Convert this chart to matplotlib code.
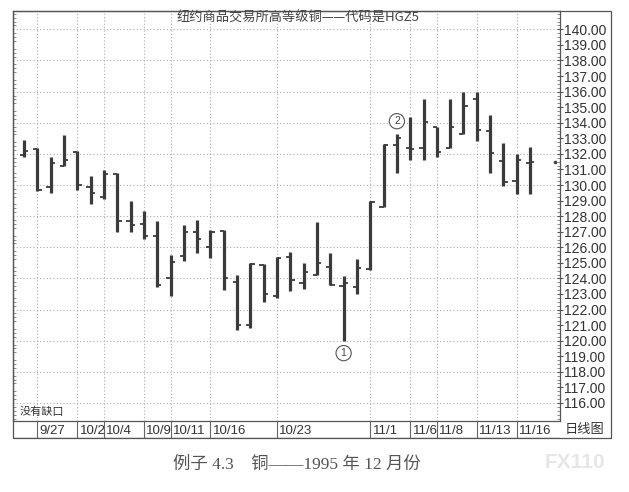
import matplotlib
matplotlib.use("Agg")
import matplotlib.pyplot as plt
from matplotlib.patches import Rectangle
from matplotlib.ticker import MultipleLocator, FixedLocator

plt.rcParams["font.family"] = ["Liberation Sans", "Noto Sans CJK SC"]

# daily bars, HGZ5 (Dec 1995 copper)
dates = ["9/26", "9/27", "9/28", "9/29", "10/2", "10/3", "10/4", "10/5", "10/6",
         "10/9", "10/10", "10/11", "10/12", "10/13", "10/16", "10/17", "10/18",
         "10/19", "10/20", "10/23", "10/24", "10/25", "10/26", "10/27", "10/30",
         "10/31", "11/1", "11/2", "11/3", "11/6", "11/7", "11/8", "11/9", "11/10",
         "11/13", "11/14", "11/15", "11/16", "11/17"]
opens = [131.9, 132.3, 129.9, 131.25, 132.1, 129.9, 129.2, 130.7, 127.7,
         127.5, 126.7, 124.0, 125.45, 126.95, 126.0, 127.05, 123.8,
         121.0, 124.85, 122.85, 125.35, 123.7, 124.2, 124.75, 123.5,
         123.45, 124.6, 128.6, 132.6, 132.35, 132.35, 133.7, 132.4, 133.3,
         135.5, 133.45, 131.55, 130.25, 131.4]
highs = [132.9, 132.4, 131.8, 133.2, 132.2, 130.6, 130.95, 130.8, 129.0,
         128.3, 127.7, 125.5, 127.4, 127.75, 127.1, 127.1, 124.2,
         125.0, 124.9, 125.4, 125.7, 125.0, 127.65, 125.65, 124.15,
         125.25, 129.0, 132.65, 133.3, 134.4, 135.5, 133.75, 135.5, 135.95,
         136.0, 134.5, 132.7, 132.0, 132.45]
lows = [131.8, 129.6, 129.5, 131.2, 129.65, 128.8, 129.1, 126.97, 127.0,
        126.55, 123.45, 122.85, 125.1, 125.65, 125.3, 123.25, 120.7,
        120.8, 122.5, 122.75, 123.2, 123.3, 124.2, 123.55, 119.95,
        123.0, 124.55, 128.6, 130.8, 131.6, 131.6, 131.8, 132.35, 133.3,
        132.8, 130.8, 129.95, 129.45, 129.45]
closes = [132.2, 129.7, 131.4, 131.6, 130.0, 129.5, 130.7, 127.7, 127.4,
          126.75, 123.6, 125.05, 127.0, 126.55, 127.0, 124.0, 121.0,
          124.9, 123.0, 125.3, 123.9, 124.4, 125.0, 123.6, 123.7,
          124.65, 128.9, 132.55, 133.0, 132.3, 134.05, 132.15, 133.75, 135.1,
          133.55, 132.05, 130.2, 131.6, 131.5]

date_labels = ["9/27", "10/2", "10/4", "10/9", "10/11", "10/16", "10/23",
               "11/1", "11/6", "11/8", "11/13", "11/16"]
price_ticks = list(range(116, 141))

W, H = 629, 492
fig = plt.figure(figsize=(W / 100, H / 100), dpi=100)

left, right_axis, right_box, top, bottom, strip_bottom = 13, 560, 611, 11, 421, 438
ax = fig.add_axes([left / W, 1 - bottom / H, (right_axis - left) / W, (bottom - top) / H])
strip = fig.add_axes([left / W, 1 - strip_bottom / H, (right_axis - left) / W,
                      (strip_bottom - bottom) / H])

x = list(range(len(dates)))
bar_col = "#3b3b3b"
ax.vlines(x, lows, highs, color=bar_col, lw=2.3, zorder=3)
ax.hlines(opens, [i - 0.32 for i in x], x, color=bar_col, lw=1.3, zorder=3)
ax.hlines(closes, x, [i + 0.32 for i in x], color=bar_col, lw=1.3, zorder=3)

# last-price marker on the right
ax.plot(len(dates) + 0.85, closes[-1], "o", ms=1.6, color="#444", zorder=3)

xmin, xmax = -0.83, 40.25
ax.set_xlim(xmin, xmax)
ax.set_ylim(114.84, 141.18)

grid_kw = dict(color="#ababab", lw=0.8, ls=(0, (1, 2)), zorder=1)
for p in range(116, 141, 2):
    ax.axhline(p, **grid_kw)
label_idx = [dates.index(d) for d in date_labels]
for i in label_idx:
    ax.axvline(i, **grid_kw)

ax.yaxis.tick_right()
ax.yaxis.set_major_locator(FixedLocator(price_ticks))
ax.yaxis.set_minor_locator(MultipleLocator(0.25))
ax.set_yticklabels([f"{p:.2f}" for p in price_ticks], fontsize=10, color="#333")
ax.tick_params(axis="y", which="major", direction="inout", length=4, width=0.8,
               pad=1.2, colors="#555", labelcolor="#333")
ax.tick_params(axis="y", which="minor", direction="in", length=2, width=0.6,
               colors="#777", left=True, right=True)
ax.set_xticks([])
for s in ax.spines.values():
    s.set_color("#555")
    s.set_linewidth(0.9)

# date strip
strip.set_xlim(xmin, xmax)
strip.set_ylim(0, 1)
strip.set_xticks([])
strip.set_yticks([])
for s in strip.spines.values():
    s.set_visible(False)
strip.axhline(1, color="#555", lw=0.9)
strip.axhline(0, color="#555", lw=0.9)
for i, lab in zip(label_idx, date_labels):
    strip.axvline(i, color="#666", lw=0.8)
    strip.text(i + 0.18, 0.42, lab, ha="left", va="center", fontsize=9.5, color="#333")

# outer frame
fig.patches.append(Rectangle((left / W, 1 - strip_bottom / H), (right_box - left) / W,
                             (strip_bottom - top) / H, transform=fig.transFigure,
                             fill=False, ec="#555", lw=0.9))

fig.text(298 / W, 1 - 18 / H, "纽约商品交易所高等级铜——代码是HGZ5", ha="center",
         va="center", fontsize=9.5, color="#444",
         family=["Noto Sans CJK SC", "Liberation Sans"])
fig.text(20 / W, 1 - 412 / H, "没有缺口", ha="left", va="center", fontsize=8,
         color="#333", family=["Noto Sans CJK SC"])
fig.text(585 / W, 1 - 429 / H, "日线图", ha="center", va="center", fontsize=9.5,
         color="#333", family=["Noto Sans CJK SC"])

# numbered circles
circ = dict(boxstyle="circle,pad=0.25", fc="white", ec="#555", lw=0.8)
ax.text(24, lows[24] - 0.75, "1", ha="center", va="center", fontsize=7.5,
        color="#444", bbox=circ, zorder=4)
ax.text(28, highs[28] + 0.8, "2", ha="center", va="center", fontsize=7.5,
        color="#444", bbox=circ, zorder=4)

fig.text(297 / W, 1 - 465 / H, "例子 4.3    铜——1995 年 12 月份", ha="center",
         va="center", fontsize=12.5, color="#555",
         family=["Liberation Serif", "Noto Sans CJK SC"])
fig.text(575 / W, 1 - 462 / H, "FX110", ha="center", va="center", fontsize=15,
         color="#e6e6e6", fontweight="bold")

fig.savefig("out.png", dpi=100)
